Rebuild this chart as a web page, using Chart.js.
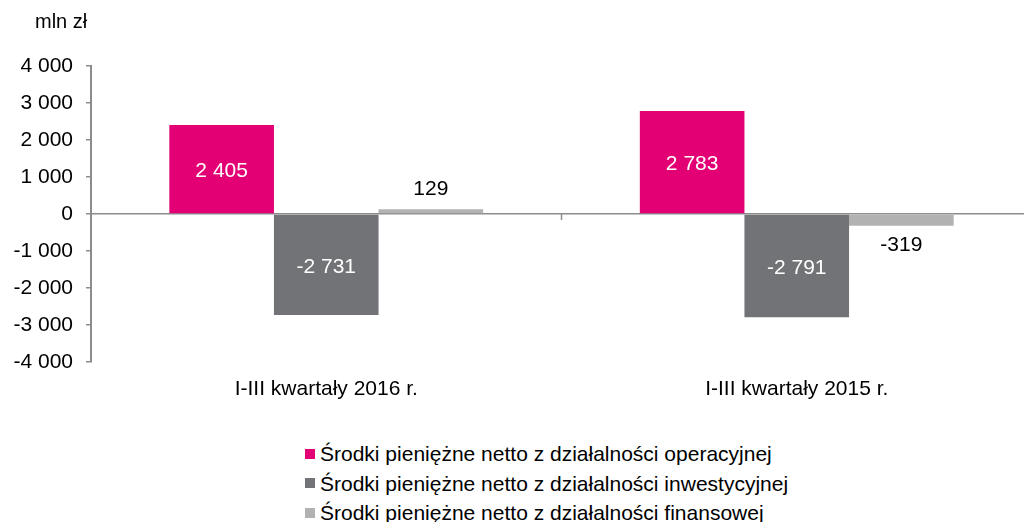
<!DOCTYPE html>
<html>
<head>
<meta charset="utf-8">
<script src="https://cdn.jsdelivr.net/npm/chart.js@4"></script>
<style>
  html, body { margin: 0; padding: 0; background: #fff; overflow: hidden; width: 1024px; height: 522px; }
  body { position: relative; font-family: 'Liberation Sans', Arial, sans-serif; color: #000; }
  #wrap { position: absolute; left: 0; top: 0; width: 1032px; height: 420px; }
  #unit { position: absolute; left: 35px; top: 10px; font-size: 20px; }
  #legend { position: absolute; left: 305px; top: 439px; font-size: 21px; line-height: 29.5px; }
  .item { display: flex; align-items: center; white-space: nowrap; }
  .box { width: 10px; height: 10px; margin-right: 5px; flex: none; }
</style>
</head>
<body>
<div id="wrap"><canvas id="chart" width="1032" height="420"></canvas></div>
<div id="unit">mln zł</div>
<div id="legend"></div>
<script>
const CATEGORIES   = ['I-III kwartały 2016 r.', 'I-III kwartały 2015 r.'];
const SERIES_NAMES = [
  'Środki pieniężne netto z działalności operacyjnej',
  'Środki pieniężne netto z działalności inwestycyjnej',
  'Środki pieniężne netto z działalności finansowej',
];
const OPERACYJNA   = [2405, 2783];
const INWESTYCYJNA = [-2731, -2791];
const FINANSOWA    = [129, -319];
const COLORS       = ['#e20074', '#727376', '#b2b2b2'];
const Y_MIN = -4000, Y_MAX = 4000, Y_STEP = 1000;

const AXIS_GREY = '#8c8c8c';

// "2 405", "-1 000"
function fmt(n) {
  const s = Math.abs(n).toString().replace(/\B(?=(\d{3})+(?!\d))/g, ' ');
  return (n < 0 ? '-' : '') + s;
}

Chart.defaults.font.family = "'Liberation Sans', Arial, sans-serif";
Chart.defaults.font.size = 21;
Chart.defaults.color = '#000';

// ── value labels: white inside the big bars, black outside the small one ──
const valueLabels = {
  id: 'valueLabels',
  afterDatasetsDraw(chart) {
    const ctx = chart.ctx;
    ctx.save();
    ctx.font = "21px 'Liberation Sans', Arial, sans-serif";
    ctx.textAlign = 'center';
    ctx.textBaseline = 'middle';
    chart.data.datasets.forEach((ds, i) => {
      chart.getDatasetMeta(i).data.forEach((bar, j) => {
        const v = ds.data[j];
        let y;
        if (i < 2) {
          ctx.fillStyle = '#fff';
          y = (bar.y + bar.base) / 2 + 2;
        } else {
          ctx.fillStyle = '#000';
          y = v >= 0 ? bar.y - 20 : bar.y + 19;
        }
        ctx.fillText(fmt(v), bar.x, y);
      });
    });
    ctx.restore();
  }
};

// ── small tick on the zero line between the two categories ──
const zeroTicks = {
  id: 'zeroTicks',
  afterDatasetsDraw(chart) {
    const { ctx, scales: { x, y } } = chart;
    const y0 = y.getPixelForValue(0);
    ctx.save();
    ctx.strokeStyle = AXIS_GREY;
    ctx.lineWidth = 1.5;
    for (let i = 0; i < CATEGORIES.length - 1; i++) {
      const xm = (x.getPixelForValue(i) + x.getPixelForValue(i + 1)) / 2;
      ctx.beginPath();
      ctx.moveTo(xm, y0);
      ctx.lineTo(xm, y0 + 6);
      ctx.stroke();
    }
    ctx.restore();
  }
};

const seriesValues = [OPERACYJNA, INWESTYCYJNA, FINANSOWA];

new Chart(document.getElementById('chart'), {
  type: 'bar',
  data: {
    labels: CATEGORIES,
    datasets: SERIES_NAMES.map((name, i) => ({
      label: name,
      data: seriesValues[i],
      backgroundColor: COLORS[i],
      borderWidth: 0,
      categoryPercentage: 0.667,
      barPercentage: 1.0,
    })),
  },
  options: {
    responsive: false,
    animation: false,
    devicePixelRatio: 1,
    layout: { padding: { top: 66, left: 0, right: 0, bottom: 18 } },
    plugins: {
      legend: { display: false },
      tooltip: { enabled: false },
    },
    scales: {
      x: {
        grid: { display: false, drawTicks: false },
        border: { display: false },
        ticks: { padding: 15, color: '#000' },
        afterFit: s => { s.height = 40; },
      },
      y: {
        min: Y_MIN,
        max: Y_MAX,
        ticks: { stepSize: Y_STEP, padding: 13, color: '#000', callback: v => fmt(v) },
        grid: {
          color: c => (c.tick && c.tick.value === 0 ? AXIS_GREY : 'rgba(0,0,0,0)'),
          lineWidth: 1.5,
          tickColor: AXIS_GREY,
          tickLength: 5,
          drawTicks: true,
        },
        border: { color: AXIS_GREY, width: 2 },
        afterFit: s => { s.width = 91; },
      },
    },
  },
  plugins: [valueLabels, zeroTicks],
});

document.getElementById('legend').innerHTML = SERIES_NAMES.map((name, i) =>
  `<div class="item"><span class="box" style="background:${COLORS[i]}"></span>${name}</div>`
).join('');
</script>
</body>
</html>
